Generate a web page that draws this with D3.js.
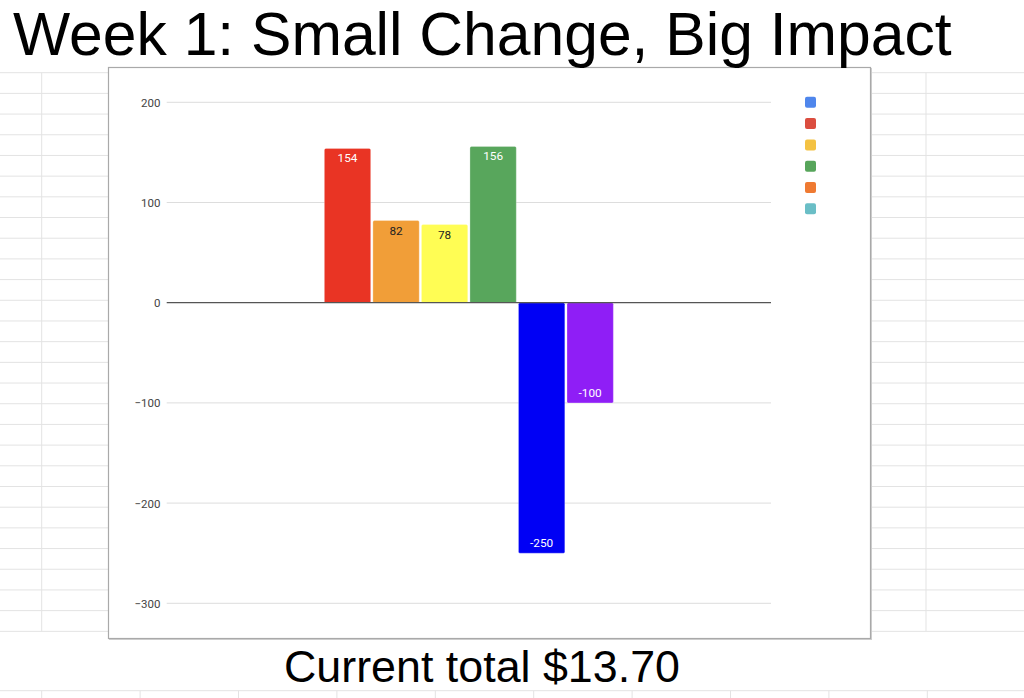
<!DOCTYPE html>
<html>
<head>
<meta charset="utf-8">
<script src="https://cdn.jsdelivr.net/npm/d3@7"></script>
<style>
  html, body { margin: 0; padding: 0; background: #fff; }
  svg { display: block; }
</style>
</head>
<body>
<svg id="chart" width="1024" height="698"></svg>
<script>
// ---- data ----
const title = "Week 1: Small Change, Big Impact";
const footer = "Current total $13.70";
const categories = [""];
const seriesNames = ["s1", "s2", "s3", "s4", "s5", "s6"];
const seriesValues = [154, 82, 78, 156, -250, -100];
const barColors = ["#e93424", "#f19e38", "#fffd54", "#58a65c", "#0000f5", "#8f1ef6"];
const labelColors = ["#ffffff", "#222222", "#222222", "#ffffff", "#ffffff", "#ffffff"];
const legendColors = ["#4f86ec", "#db4d3f", "#f4c243", "#57a55b", "#ef7a32", "#6abec6"];
const yTicks = [200, 100, 0, -100, -200, -300];
const yDomain = [-300, 200];

const svg = d3.select("#chart");

// ---- spreadsheet background ----
const bg = svg.append("g");
const rowTop = 72.7, rowH = 20.69, nRows = 27;
const rowsY = d3.range(nRows + 1).map(i => rowTop + i * rowH);
bg.selectAll("line.h").data(rowsY).join("line")
  .attr("x1", 0).attr("x2", 1024).attr("y1", d => d).attr("y2", d => d)
  .attr("stroke", "#e3e3e3").attr("stroke-width", 1);
bg.selectAll("line.v").data([41.7, 926]).join("line")
  .attr("x1", d => d).attr("x2", d => d).attr("y1", rowTop).attr("y2", rowsY[nRows])
  .attr("stroke", "#e3e3e3").attr("stroke-width", 1);
bg.append("line").attr("x1", 0).attr("x2", 1024).attr("y1", 690.7).attr("y2", 690.7)
  .attr("stroke", "#e3e3e3");
const colsX = d3.range(10).map(i => 41.7 + i * 98.4);
bg.selectAll("line.vb").data(colsX).join("line")
  .attr("x1", d => d).attr("x2", d => d).attr("y1", 690.7).attr("y2", 698)
  .attr("stroke", "#e3e3e3");

// ---- chart box ----
const box = { x: 108.5, y: 67.5, w: 762, h: 571 };
svg.append("rect").attr("x", box.x + 1).attr("y", box.y + 1).attr("width", box.w).attr("height", box.h)
  .attr("fill", "none").attr("stroke", "#d0d0d0").attr("stroke-width", 1);
svg.append("rect").attr("x", box.x).attr("y", box.y).attr("width", box.w).attr("height", box.h)
  .attr("fill", "#fff").attr("stroke", "#a9a9a9").attr("stroke-width", 1.2);

// ---- scales ----
const plotL = 166.7, plotR = 771;
const y = d3.scaleLinear().domain(yDomain).range([603.3, 102.3]);
const x0 = d3.scaleBand().domain(categories).range([plotL, plotR]).paddingInner(0).paddingOuter(0.5455);
const x1 = d3.scaleBand().domain(seriesNames).range([0, x0.bandwidth()]).paddingInner(0.045).paddingOuter(0);

// gridlines
const grid = svg.append("g");
grid.selectAll("line").data(yTicks.filter(t => t !== 0)).join("line")
  .attr("x1", plotL).attr("x2", plotR)
  .attr("y1", d => y(d)).attr("y2", d => y(d))
  .attr("stroke", "#dddddd").attr("stroke-width", 1);

// axis labels
const yAxis = d3.axisLeft(y).tickValues(yTicks).tickSize(0).tickPadding(0).tickFormat(d3.format("d"));
const ya = svg.append("g").attr("transform", `translate(160.5,0)`).call(yAxis);
ya.select(".domain").remove();
ya.selectAll("text").attr("font-family", "Roboto, Arial, sans-serif").attr("font-size", 11.5)
  .attr("fill", "#444").attr("dy", "0.35em");

// bars
const data = seriesNames.map((s, i) => ({ cat: categories[0], s, v: seriesValues[i], i }));
const bars = svg.append("g").attr("transform", `translate(${x0(categories[0])},0)`);
bars.selectAll("rect").data(data).join("rect")
  .attr("x", d => x1(d.s))
  .attr("width", x1.bandwidth())
  .attr("y", d => y(Math.max(0, d.v)))
  .attr("height", d => Math.abs(y(d.v) - y(0)))
  .attr("rx", 1.5)
  .attr("fill", (d) => barColors[d.i])
  .attr("stroke", "rgba(255,255,255,0.35)").attr("stroke-width", 0.8);

bars.selectAll("text").data(data).join("text")
  .attr("x", d => x1(d.s) + x1.bandwidth() / 2)
  .attr("y", d => d.v >= 0 ? y(d.v) + 14 : y(d.v) - 6.3)
  .attr("text-anchor", "middle")
  .attr("font-family", "Roboto, Arial, sans-serif").attr("font-size", 11.8)
  .attr("fill", d => labelColors[d.i])
  .text(d => d.v);

// zero baseline
svg.append("line").attr("x1", plotL).attr("x2", plotR).attr("y1", y(0)).attr("y2", y(0))
  .attr("stroke", "#555").attr("stroke-width", 1.2);

// legend (empty series names)
const lg = svg.append("g");
lg.selectAll("rect").data(legendColors).join("rect")
  .attr("x", 805).attr("y", (d, i) => 96.8 + i * 21.3)
  .attr("width", 11).attr("height", 11).attr("rx", 2)
  .attr("fill", d => d);

// title & footer
svg.append("text").attr("x", 13).attr("y", 55)
  .attr("font-family", "'Liberation Sans', Arial, Helvetica, sans-serif").attr("font-size", 60.6)
  .attr("fill", "#000").text(title);
svg.append("text").attr("x", 284).attr("y", 682)
  .attr("font-family", "'Liberation Sans', Arial, Helvetica, sans-serif").attr("font-size", 44.8)
  .attr("fill", "#000").text(footer);
</script>
</body>
</html>
